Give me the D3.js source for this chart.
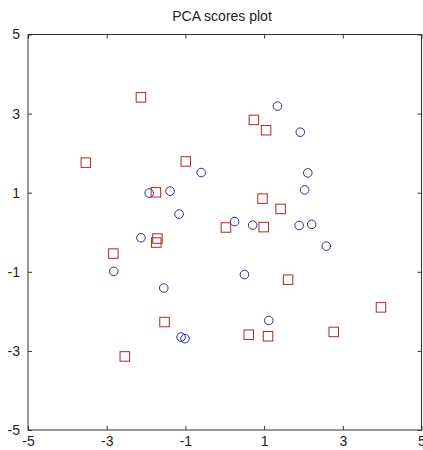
<!DOCTYPE html>
<html>
<head>
<meta charset="utf-8">
<script src="https://cdn.jsdelivr.net/npm/d3@7"></script>
<style>
  body { margin: 0; background: #fff; }
  svg { display: block; font-family: "Liberation Sans", Arial, sans-serif; }
</style>
</head>
<body>
<svg id="chart" width="423" height="450"></svg>
<script>
// data
const circleX = [-1.92, -1.39, -0.60, -1.16, 1.34, 1.92, 2.11, 2.03, 0.25, 0.71,
                 1.89, 2.21, -2.13, -2.82, -1.55, -1.11, -1.01, 2.58, 0.50, 1.12];
const circleY = [0.99, 1.04, 1.51, 0.46, 3.19, 2.53, 1.50, 1.07, 0.27, 0.18,
                 0.17, 0.20, -0.14, -0.99, -1.41, -2.65, -2.69, -0.35, -1.07, -2.23];
const squareX = [-2.13, -3.53, -0.99, -1.75, 0.74, 1.05, 0.96, 1.42, 0.03, 0.99,
                 -1.71, -1.74, -2.83, -1.53, -2.54, 1.61, 3.97, 0.61, 1.10, 2.77];
const squareY = [3.41, 1.76, 1.79, 1.01, 2.84, 2.58, 0.85, 0.59, 0.12, 0.13,
                 -0.16, -0.26, -0.54, -2.27, -3.14, -1.20, -1.90, -2.59, -2.63, -2.52];
const tickValues = [-5, -3, -1, 1, 3, 5];
const title = "PCA scores plot";

const svg = d3.select("#chart");

const x = d3.scaleLinear().domain([-5, 5]).range([28, 421.5]);
const y = d3.scaleLinear().domain([-5, 5]).range([430, 34.5]);

// frame
svg.append("rect")
  .attr("x", x(-5)).attr("y", y(5))
  .attr("width", x(5) - x(-5)).attr("height", y(-5) - y(5))
  .attr("fill", "none").attr("stroke", "#333").attr("stroke-width", 1);

// axes with inward ticks
function styleAxis(g) {
  g.select(".domain").remove();
  g.selectAll(".tick line").attr("stroke", "#333");
  g.selectAll(".tick text").attr("fill", "#222").style("font-size", "14px");
}

svg.append("g")
  .attr("transform", `translate(0,${y(-5)})`)
  .call(d3.axisBottom(x).tickValues(tickValues).tickSize(-4).tickPadding(6).tickFormat(d => String(d)))
  .call(styleAxis);

svg.append("g")
  .attr("transform", `translate(${x(-5)},0)`)
  .call(d3.axisLeft(y).tickValues(tickValues).tickSize(-4).tickPadding(8).tickFormat(d => String(d)))
  .call(styleAxis);

// mirrored ticks top / right
svg.append("g")
  .attr("transform", `translate(0,${y(5)})`)
  .call(d3.axisTop(x).tickValues(tickValues).tickSize(-4).tickFormat(""))
  .call(styleAxis);

svg.append("g")
  .attr("transform", `translate(${x(5)},0)`)
  .call(d3.axisRight(y).tickValues(tickValues).tickSize(-4).tickFormat(""))
  .call(styleAxis);

// title
svg.append("text")
  .attr("x", 222).attr("y", 21)
  .attr("text-anchor", "middle")
  .style("font-size", "14px")
  .attr("fill", "#222")
  .text(title);

// circles
svg.append("g").selectAll("circle")
  .data(d3.range(circleX.length))
  .enter()
  .append("circle")
  .attr("cx", i => x(circleX[i]))
  .attr("cy", i => y(circleY[i]))
  .attr("r", 4.3)
  .attr("fill", "none")
  .attr("stroke", "#2c2c96")
  .attr("stroke-width", 1);

// squares
const side = 9.5;
svg.append("g").selectAll("rect")
  .data(d3.range(squareX.length))
  .enter()
  .append("rect")
  .attr("x", i => x(squareX[i]) - side / 2)
  .attr("y", i => y(squareY[i]) - side / 2)
  .attr("width", side)
  .attr("height", side)
  .attr("fill", "none")
  .attr("stroke", "#b42424")
  .attr("stroke-width", 1);
</script>
</body>
</html>
